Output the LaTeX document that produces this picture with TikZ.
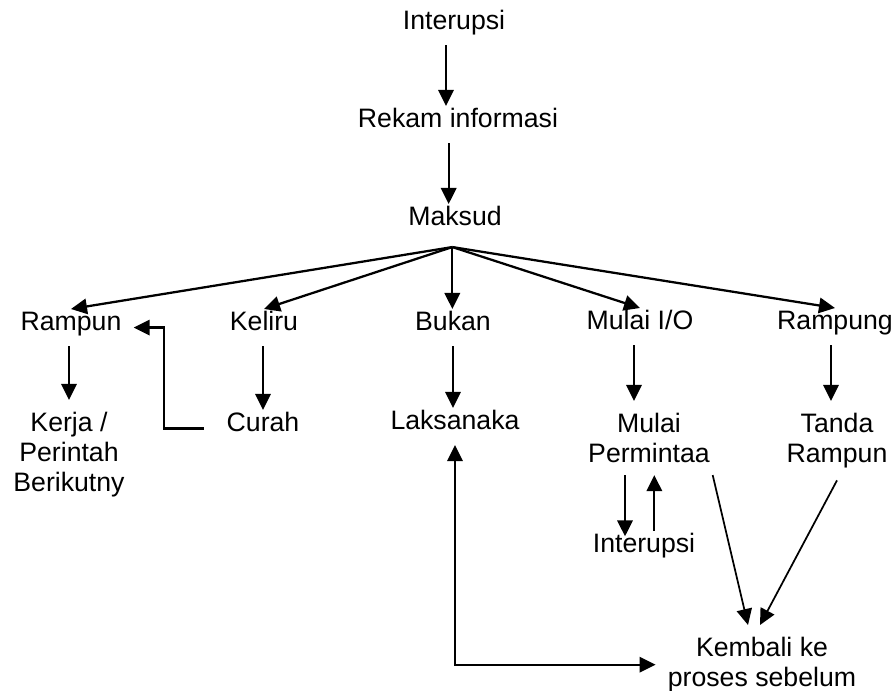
\documentclass[tikz,border=0pt]{standalone}
\usepackage{fontspec}
\setmainfont{Liberation Sans}
\usetikzlibrary{arrows.meta}
\definecolor{flowInk}{RGB}{0, 0, 0}

\begin{document}
\begin{tikzpicture}[x=0.75pt, y=-0.75pt]
                    \tikzstyle{lbl} = [font=\fontsize{20}{22.5}\selectfont, text=flowInk, inner xsep=9pt, inner ysep=9pt, text height=0.73em, text depth=0.21em]
                    \tikzstyle{blk} = [font=\fontsize{20}{22.5}\selectfont, text=flowInk, align=center, inner xsep=9pt, inner ysep=9pt, anchor=north]
                    \tikzstyle{arr} = [-{Triangle[length=12pt, width=11.5pt]}, line width=1.7pt, draw=flowInk]
                    \tikzstyle{thin} = [-{Triangle[length=12pt, width=11.5pt]}, line width=1.3pt, draw=flowInk]
                    \useasboundingbox (0,0) rectangle (894,691);
                    \node[lbl, anchor=base] (intr) at (454,30) {Interupsi};
                    \node[lbl, anchor=base] (rekam) at (458,128) {Rekam informasi};
                    \node[lbl, anchor=base] (maksud) at (455,226) {Maksud};
                    \node[lbl, anchor=base] (rampun) at (71,331) {Rampun};
                    \node[lbl, anchor=base] (keliru) at (264,331) {Keliru};
                    \node[lbl, anchor=base] (bukan) at (453,331) {Bukan};
                    \node[lbl, anchor=base] (mulaio) at (640,330) {Mulai I/O};
                    \node[lbl, anchor=base] (rampung) at (835,330) {Rampung};
                    \node[blk] (kerja) at (69,400) {Kerja /\\Perintah\\Berikutny};
                    \node[lbl, anchor=base] (curah) at (263,432) {Curah};
                    \node[lbl, anchor=base] (laksana) at (455,430) {Laksanaka};
                    \node[blk] (permintaa) at (649,401) {Mulai\\Permintaa};
                    \node[blk] (tanda) at (837,401) {Tanda\\Rampun};
                    \node[lbl, anchor=base] (intr2) at (644,553) {Interupsi};
                    \node[blk] (kembali) at (762,625) {Kembali ke\\proses sebelum};
                    \coordinate (fan) at ([xshift=-2pt, yshift=-4.5pt]maksud.south);
                    \draw[arr] ([xshift=-6pt]intr.south) -- ([xshift=-6pt]intr.south |- rekam.north);
                    \draw[arr] ([xshift=-7pt]rekam.south) -- ([xshift=-7pt]rekam.south |- maksud.north);
                    \foreach \t in {rampun, keliru, mulaio, rampung}
                        \draw[arr] (fan) -- (\t.north);
                    \draw[arr] (fan) -- (fan |- bukan.north);
                    \draw[arr] (kerja.north |- rampun.south) -- (kerja.north);
                    \draw[arr] (curah.north |- keliru.south) -- (curah.north);
                    \draw[arr] (bukan.south) -- (bukan.south |- laksana.north);
                    \draw[arr] ([xshift=-4.5pt]mulaio.south) -- ([xshift=-4.5pt]mulaio.south |- permintaa.north);
                    \draw[arr] ([xshift=-3pt]rampung.south) -- ([xshift=-3pt]rampung.south |- tanda.north);
                    \draw[arr] ([xshift=-8pt]curah.west) -- ++(-40,0) |- (rampun.east);
                    \draw[arr, shorten >=-4pt] ([xshift=-18pt]permintaa.south) -- ([xshift=-18pt]permintaa.south |- intr2.north);
                    \draw[arr] ([xshift=4pt]permintaa.south |- intr2.north) -- ([xshift=4pt]permintaa.south);
                    \draw[thin] ([xshift=-7pt]permintaa.south east) -- ([xshift=-10.5pt]kembali.north);
                    \draw[thin] (tanda.south) -- ([xshift=-1.5pt]kembali.north);
                    \draw[arr, {Triangle[length=12pt, width=11.5pt]}-{Triangle[length=12pt, width=11.5pt]}] (laksana.south) |- (kembali.west);
                \end{tikzpicture}
\end{document}
